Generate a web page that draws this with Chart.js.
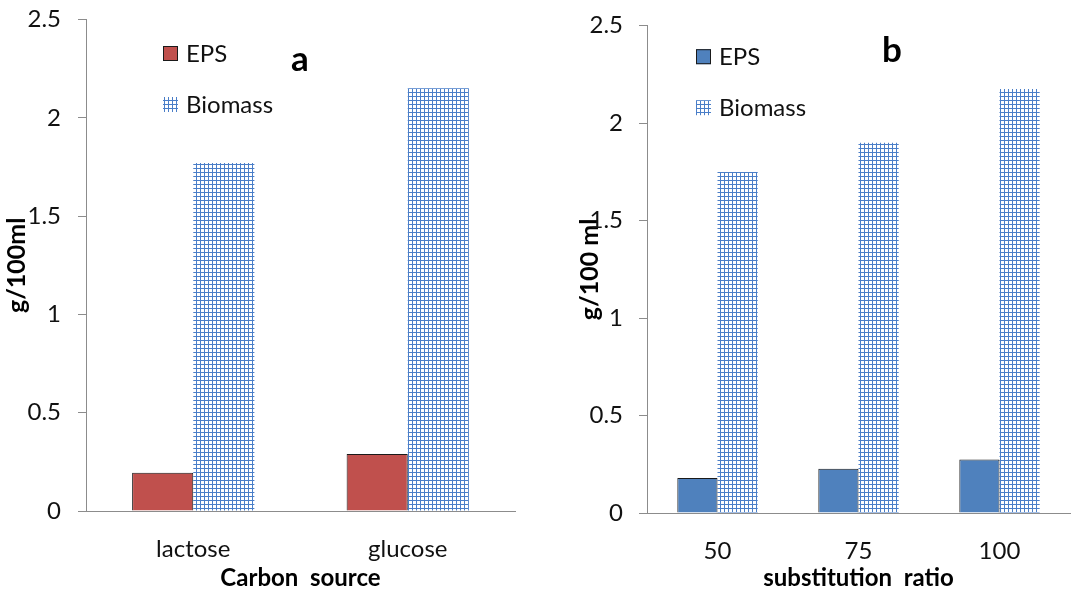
<!DOCTYPE html>
<html>
<head>
<meta charset="utf-8">
<script src="https://cdn.jsdelivr.net/npm/chart.js@4.4.1/dist/chart.umd.min.js"></script>
<style>
  html, body { margin: 0; padding: 0; background: #fff; }
  #wrap { position: relative; width: 1084px; height: 590px; }
  canvas { position: absolute; top: 0; }
  #chartA { left: 0; }
  #chartB { left: 540px; }
</style>
</head>
<body>
<div id="wrap">
  <canvas id="chartA" width="540" height="590"></canvas>
  <canvas id="chartB" width="544" height="590"></canvas>
</div>
<script>
// values, g/100 ml
const carbonSources = ['lactose', 'glucose'];
const epsCarbon = [0.195, 0.29];
const biomassCarbon = [1.77, 2.15];

const substitutionRatios = ['50', '75', '100'];
const epsRatio = [0.18, 0.227, 0.275];
const biomassRatio = [1.75, 1.90, 2.175];

const yMin = 0;
const yMax = 2.5;
const yStep = 0.5;

Chart.defaults.font.family = 'Lato, "Open Sans", sans-serif';
Chart.defaults.color = '#111';

// small blue grid fill like the excel "small grid" pattern
function gridPattern() {
  const c = document.createElement('canvas');
  c.width = 4; c.height = 4;
  const g = c.getContext('2d');
  g.fillStyle = '#ffffff';
  g.fillRect(0, 0, 4, 4);
  g.fillStyle = '#4a7ec8';
  g.fillRect(0, 0, 4, 1);
  g.fillRect(0, 0, 1, 4);
  return g.createPattern(c, 'repeat');
}

// legend + panel letter drawn inside the plot
const panelLegend = {
  id: 'panelLegend',
  afterDraw(chart, args, opts) {
    const ctx = chart.ctx;
    const a = chart.chartArea;
    ctx.save();
    ctx.font = '24px Lato';
    ctx.textBaseline = 'middle';
    ctx.textAlign = 'left';
    chart.data.datasets.forEach((ds, i) => {
      const x = a.left + opts.left;
      const y = a.top + opts.top + i * opts.rowGap;
      ctx.fillStyle = ds.backgroundColor;
      ctx.fillRect(x, y - 7.5, 15, 15);
      if (ds.borderWidth) {
        ctx.strokeStyle = ds.borderColor;
        ctx.lineWidth = 1;
        ctx.strokeRect(x + 0.5, y - 7, 14, 14);
      }
      ctx.fillStyle = '#111';
      ctx.fillText(ds.label, x + 23, y + 1);
    });
    ctx.font = 'bold 35px Lato';
    ctx.textAlign = 'center';
    ctx.textBaseline = 'alphabetic';
    ctx.fillStyle = '#000';
    ctx.fillText(opts.letter, a.left + opts.letterX, a.top + opts.letterY);
    ctx.restore();
  }
};

function makeChart(id, labels, eps, biomass, epsColor, cfg) {
  const ctx = document.getElementById(id);
  return new Chart(ctx, {
    type: 'bar',
    data: {
      labels: labels,
      datasets: [{
        label: 'EPS',
        data: eps,
        backgroundColor: epsColor,
        borderColor: '#1a1a1a',
        borderWidth: 1
      }, {
        label: 'Biomass',
        data: biomass,
        backgroundColor: gridPattern(),
        borderWidth: 0
      }]
    },
    options: {
      responsive: false,
      animation: false,
      layout: {
        padding: { top: cfg.top, right: cfg.right, left: 0, bottom: 0 }
      },
      datasets: {
        bar: { categoryPercentage: 0.57, barPercentage: 1 }
      },
      scales: {
        x: {
          grid: { display: false },
          border: { display: true, color: '#8c8c8c', width: 1 },
          ticks: { font: { size: 24 }, padding: 16, color: '#111' },
          title: {
            display: true,
            text: cfg.xTitle,
            font: { size: 24, weight: 'bold' },
            color: '#000',
            padding: { top: 0, bottom: -3 }
          },
          afterFit: (scale) => { scale.height = cfg.xHeight; }
        },
        y: {
          min: yMin,
          max: yMax,
          ticks: {
            stepSize: yStep,
            font: { size: 24 },
            padding: cfg.tickPad,
            color: '#111',
            callback: (v) => String(v)
          },
          grid: { drawOnChartArea: false, drawTicks: true, tickLength: 8, color: '#8c8c8c' },
          border: { display: true, color: '#8c8c8c', width: 1 },
          title: {
            display: true,
            text: cfg.yTitle,
            font: { size: 25, weight: 'bold' },
            color: '#000',
            padding: { top: cfg.titlePad, bottom: 0 }
          },
          afterFit: (scale) => {
            scale.width = cfg.yWidth;
            // keep the plot top where the figure has it
            scale.paddingTop = 0;
            scale.paddingBottom = 0;
          }
        }
      },
      plugins: {
        legend: { display: false },
        tooltip: { enabled: false },
        panelLegend: cfg.legend
      }
    },
    plugins: [panelLegend]
  });
}

makeChart('chartA', carbonSources, epsCarbon, biomassCarbon, '#c0504d', {
  top: 19.5, right: 25, xHeight: 79, yWidth: 86, tickPad: 17, titlePad: 2,
  xTitle: 'Carbon  source', yTitle: 'g/100ml',
  legend: { left: 77, top: 34, rowGap: 51, letter: 'a', letterX: 214, letterY: 51 }
});

makeChart('chartB', substitutionRatios, epsRatio, biomassRatio, '#4f81bd', {
  top: 25.7, right: 14, xHeight: 77, yWidth: 107, tickPad: 16, titlePad: 35,
  xTitle: 'substitution  ratio', yTitle: 'g/100 ml',
  legend: { left: 49, top: 31, rowGap: 51, letter: 'b', letterX: 245, letterY: 36 }
});
</script>
</body>
</html>
